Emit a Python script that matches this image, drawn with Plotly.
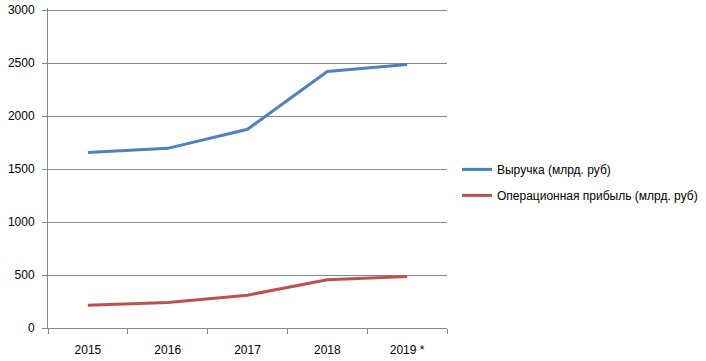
import plotly.graph_objects as go

years = ["2015", "2016", "2017", "2018", "2019 *"]
revenue = [1655, 1695, 1875, 2420, 2485]
op_profit = [215, 240, 310, 455, 485]

fig = go.Figure()
fig.add_trace(go.Scatter(x=years, y=revenue, mode="lines", name="Выручка (млрд. руб)",
                         line=dict(color="#4F81BD", width=3), legendgroup="a"))
fig.add_trace(go.Scatter(x=years, y=op_profit, mode="lines", name="Операционная прибыль (млрд. руб)",
                         line=dict(color="#C0504D", width=3), legendgroup="b"))

fig.update_layout(
    width=706, height=361,
    margin=dict(l=48, r=259, t=8, b=33, autoexpand=False),
    plot_bgcolor="white", paper_bgcolor="white",
    font=dict(family="Liberation Sans", size=12, color="black"),
    showlegend=True,
    legend=dict(x=1.025, y=0.455, xanchor="left", yanchor="middle",
                traceorder="grouped", tracegroupgap=7,
                font=dict(size=12), bgcolor="rgba(0,0,0,0)"),
    xaxis=dict(type="category", showgrid=False, showline=True, linecolor="#868686", linewidth=1,
               ticks="outside", tickson="boundaries", ticklen=5, tickcolor="#868686",
               range=[-0.5, 4.5], zeroline=False, ticklabelstandoff=11),
    yaxis=dict(range=[0, 3019], tickvals=[0, 500, 1000, 1500, 2000, 2500, 3000],
               showgrid=True, gridcolor="#868686", gridwidth=1,
               showline=True, linecolor="#868686", linewidth=1, ticks="outside", ticklen=5,
               tickcolor="#868686", zeroline=False, tickformat="d", ticklabelstandoff=5),
)

fig.write_html("out.html", config={"displayModeBar": False},
               post_script="document.body.style.margin='0';")
